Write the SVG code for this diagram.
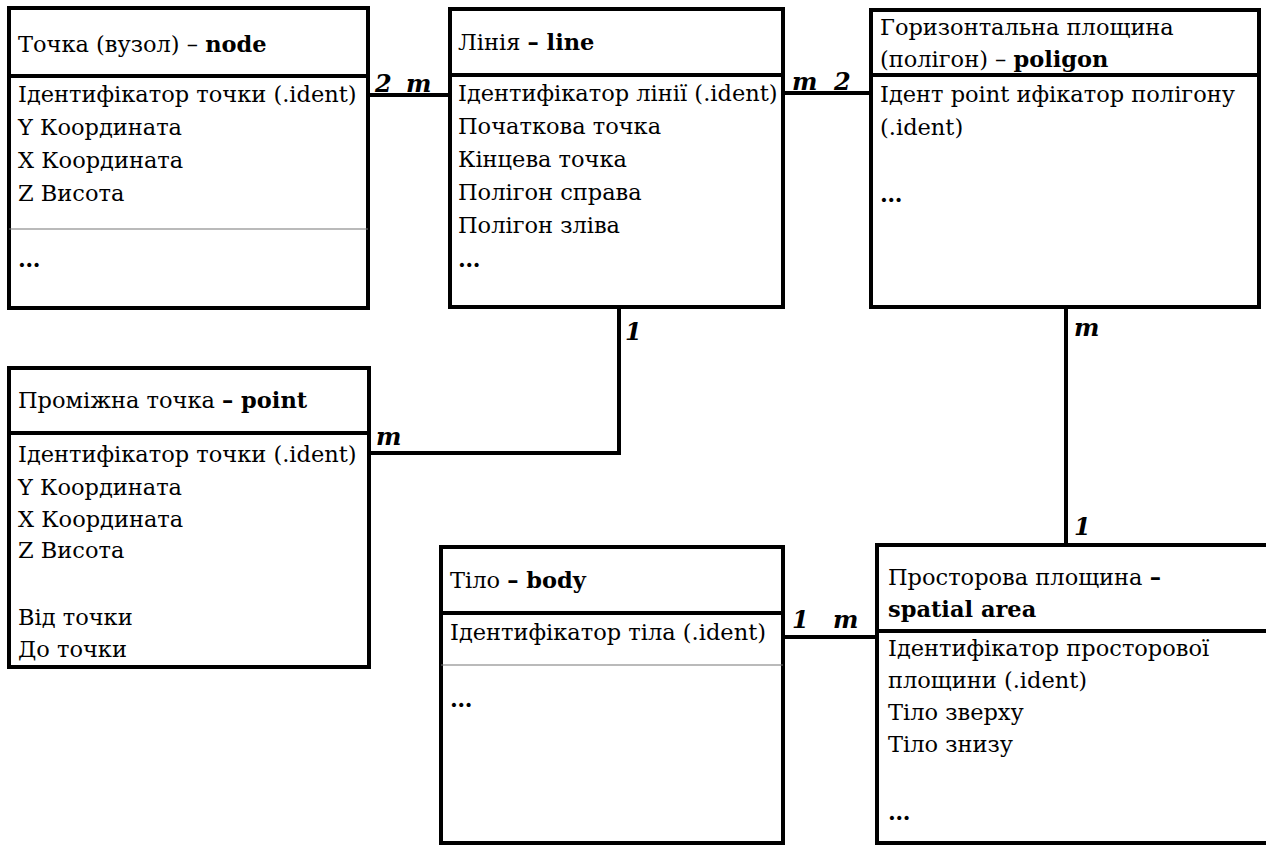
<svg xmlns="http://www.w3.org/2000/svg" width="1266" height="846" viewBox="0 0 1266 846">
<style>
.box{fill:#fff;stroke:#000;stroke-width:4}
.div{stroke:#000;stroke-width:4}
.thin{stroke:#777;stroke-width:1.2}
.con{fill:none;stroke:#000;stroke-width:4}
text{font-family:"DejaVu Serif","Liberation Serif",serif;font-size:22.5px;fill:#000}
.b{font-weight:bold}
.lab{font-weight:bold;font-style:italic;font-size:24px}
</style>
<rect width="1266" height="846" fill="#fff"/>
<g id="connectors">
<line class="con" x1="367" y1="95" x2="450" y2="95"/>
<line class="con" x1="783" y1="93" x2="871" y2="93"/>
<polyline class="con" points="369,453 619,453 619,307"/>
<line class="con" x1="1066" y1="307" x2="1066" y2="545"/>
<line class="con" x1="783" y1="637" x2="877" y2="637"/>
<text class="lab" x="375" y="92">2</text><text class="lab" x="406" y="92">m</text>
<text class="lab" x="792" y="90">m</text><text class="lab" x="834" y="90">2</text>
<text class="lab" x="625" y="340">1</text>
<text class="lab" x="376" y="445">m</text>
<text class="lab" x="1074" y="336">m</text>
<text class="lab" x="1074" y="535">1</text>
<text class="lab" x="792" y="628">1</text><text class="lab" x="833" y="628">m</text>
</g>
<g id="node">
<rect class="box" x="9" y="8" width="359" height="300"/>
<line class="div" x1="9" y1="76" x2="368" y2="76"/>
<line class="thin" x1="9" y1="229" x2="368" y2="229"/>
<text x="18" y="52">Точка (вузол) – <tspan class="b">node</tspan></text>
<text x="18" y="102">Ідентифікатор точки (.ident)</text>
<text x="18" y="135">Y Координата</text>
<text x="18" y="168">X Координата</text>
<text x="18" y="201">Z Висота</text>
<text x="18" y="267" class="b">…</text>
</g>
<g id="line">
<rect class="box" x="450" y="9" width="333" height="298"/>
<line class="div" x1="450" y1="75" x2="783" y2="75"/>
<text x="458" y="50">Лінія <tspan class="b">– line</tspan></text>
<text x="458" y="101">Ідентифікатор лінії (.ident)</text>
<text x="458" y="134">Початкова точка</text>
<text x="458" y="167">Кінцева точка</text>
<text x="458" y="200">Полігон справа</text>
<text x="458" y="233">Полігон зліва</text>
<text x="458" y="267" class="b">…</text>
</g>
<g id="poligon">
<rect class="box" x="871" y="10" width="388" height="297"/>
<line class="div" x1="871" y1="75" x2="1259" y2="75"/>
<text x="880" y="35">Горизонтальна площина</text>
<text x="880" y="67">(полігон) – <tspan class="b">poligon</tspan></text>
<text x="880" y="102">Ідент point ифікатор полігону</text>
<text x="880" y="135">(.ident)</text>
<text x="880" y="202" class="b">…</text>
</g>
<g id="point">
<rect class="box" x="9" y="368" width="360" height="299"/>
<line class="div" x1="9" y1="433" x2="369" y2="433"/>
<text x="18" y="408">Проміжна точка <tspan class="b">– point</tspan></text>
<text x="18" y="462">Ідентифікатор точки (.ident)</text>
<text x="18" y="495">Y Координата</text>
<text x="18" y="527">X Координата</text>
<text x="18" y="558">Z Висота</text>
<text x="18" y="625">Від точки</text>
<text x="18" y="657">До точки</text>
</g>
<g id="body">
<rect class="box" x="441" y="547" width="342" height="296"/>
<line class="div" x1="441" y1="613" x2="783" y2="613"/>
<line class="thin" x1="441" y1="665" x2="783" y2="665"/>
<text x="450" y="588">Тіло <tspan class="b">– body</tspan></text>
<text x="450" y="640">Ідентифікатор тіла (.ident)</text>
<text x="450" y="707" class="b">…</text>
</g>
<g id="spatial">
<rect class="box" x="877" y="545" width="400" height="298"/>
<line class="div" x1="877" y1="631" x2="1270" y2="631"/>
<text x="888" y="585">Просторова площина <tspan class="b">–</tspan></text>
<text x="888" y="617" class="b">spatial area</text>
<text x="888" y="656">Ідентифікатор просторової</text>
<text x="888" y="688">площини (.ident)</text>
<text x="888" y="720">Тіло зверху</text>
<text x="888" y="752">Тіло знизу</text>
<text x="888" y="820" class="b">…</text>
</g>
</svg>
